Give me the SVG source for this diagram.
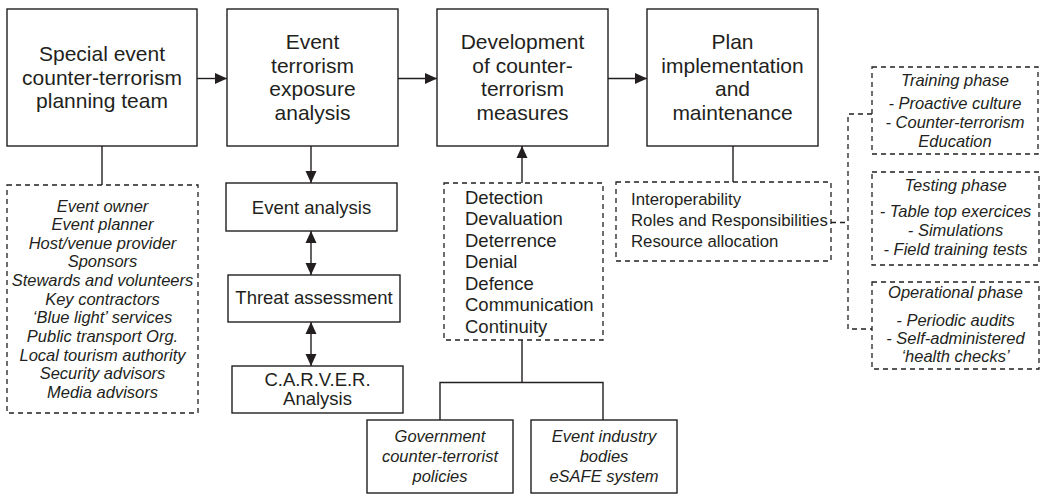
<svg xmlns="http://www.w3.org/2000/svg" width="1046" height="495" viewBox="0 0 1046 495">
  <style>
    .box { fill: #fff; stroke: #231f20; stroke-width: 1.4; }
    .dbox { fill: none; stroke: #231f20; stroke-width: 1.3; stroke-dasharray: 5 4; }
    .ln { fill: none; stroke: #231f20; stroke-width: 1.4; }
    .dln { fill: none; stroke: #231f20; stroke-width: 1.3; stroke-dasharray: 5 4; }
    text { font-family: "Liberation Sans", Arial, sans-serif; fill: #231f20; }
    .title { font-size: 21px; text-anchor: middle; }
    .lbl { font-size: 18.5px; text-anchor: middle; }
    .it { font-size: 16.5px; font-style: italic; text-anchor: middle; }
    .lst { font-size: 18.5px; }
    .lst2 { font-size: 16.8px; }
  </style>
  <defs>
    <marker id="arr" viewBox="0 0 12 12" refX="12" refY="6" markerWidth="12" markerHeight="12" markerUnits="userSpaceOnUse" orient="auto-start-reverse">
      <path d="M0,0.5 L12,6 L0,11.5 Z" fill="#231f20"/>
    </marker>
  </defs>

  <!-- connectors -->
  <g id="connectors">
    <line class="ln" x1="197" y1="78.5" x2="227" y2="78.5" marker-end="url(#arr)"/>
    <line class="ln" x1="398" y1="78.5" x2="437" y2="78.5" marker-end="url(#arr)"/>
    <line class="ln" x1="608" y1="78.5" x2="647" y2="78.5" marker-end="url(#arr)"/>
    <line class="ln" x1="102" y1="146" x2="102" y2="185"/>
    <line class="ln" x1="311" y1="146" x2="311" y2="183" marker-end="url(#arr)"/>
    <line class="ln" x1="311" y1="231" x2="311" y2="275" marker-start="url(#arr)" marker-end="url(#arr)"/>
    <line class="ln" x1="311" y1="322" x2="311" y2="366" marker-start="url(#arr)" marker-end="url(#arr)"/>
    <line class="ln" x1="522" y1="183" x2="522" y2="146" marker-end="url(#arr)"/>
    <path class="ln" d="M522,340 V382.5 M440,420 V382.5 H603 V420"/>
    <line class="ln" x1="733" y1="146" x2="733" y2="182"/>
    <path class="dln" d="M831,222.5 H848 M872,114 H848 V329 H872"/>
  </g>

  <!-- main process steps -->
  <g id="planning-team">
    <rect class="box" x="7" y="9" width="190" height="137"/>
    <text class="title" x="102" y="61">Special event</text>
    <text class="title" x="102" y="84.5">counter-terrorism</text>
    <text class="title" x="102" y="108">planning team</text>
  </g>
  <g id="exposure-analysis">
    <rect class="box" x="227" y="9" width="171" height="137"/>
    <text class="title" x="312.5" y="49">Event</text>
    <text class="title" x="312.5" y="72.5">terrorism</text>
    <text class="title" x="312.5" y="96">exposure</text>
    <text class="title" x="312.5" y="119.5">analysis</text>
  </g>
  <g id="measures">
    <rect class="box" x="437" y="9" width="171" height="137"/>
    <text class="title" x="522.5" y="49">Development</text>
    <text class="title" x="522.5" y="72.5">of counter-</text>
    <text class="title" x="522.5" y="96">terrorism</text>
    <text class="title" x="522.5" y="119.5">measures</text>
  </g>
  <g id="implementation">
    <rect class="box" x="647" y="9" width="171" height="137"/>
    <text class="title" x="732.5" y="49">Plan</text>
    <text class="title" x="732.5" y="72.5">implementation</text>
    <text class="title" x="732.5" y="96">and</text>
    <text class="title" x="732.5" y="119.5">maintenance</text>
  </g>

  <!-- stakeholders -->
  <g id="stakeholders">
    <rect class="dbox" x="7" y="185" width="191" height="228"/>
    <text class="it" x="102.5" y="211.5">Event owner</text>
    <text class="it" x="102.5" y="230.1">Event planner</text>
    <text class="it" x="102.5" y="248.8">Host/venue provider</text>
    <text class="it" x="102.5" y="267.4">Sponsors</text>
    <text class="it" x="102.5" y="286">Stewards and volunteers</text>
    <text class="it" x="102.5" y="304.7">Key contractors</text>
    <text class="it" x="102.5" y="323.3">‘Blue light’ services</text>
    <text class="it" x="102.5" y="341.9">Public transport Org.</text>
    <text class="it" x="102.5" y="360.5">Local tourism authority</text>
    <text class="it" x="102.5" y="379.2">Security advisors</text>
    <text class="it" x="102.5" y="397.8">Media advisors</text>
  </g>

  <!-- exposure analysis steps -->
  <g id="event-analysis">
    <rect class="box" x="226" y="183" width="171" height="48"/>
    <text class="lbl" x="311.5" y="213.5">Event analysis</text>
  </g>
  <g id="threat-assessment">
    <rect class="box" x="228" y="275" width="172" height="47"/>
    <text class="lbl" x="314" y="304">Threat assessment</text>
  </g>
  <g id="carver">
    <rect class="box" x="232" y="366" width="171" height="47"/>
    <text class="lbl" x="317.5" y="385.5">C.A.R.V.E.R.</text>
    <text class="lbl" x="317.5" y="405">Analysis</text>
  </g>

  <!-- measures list -->
  <g id="measure-list">
    <rect class="dbox" x="444" y="183" width="159" height="157"/>
    <text class="lst" x="465" y="203.5">Detection</text>
    <text class="lst" x="465" y="225">Devaluation</text>
    <text class="lst" x="465" y="246.5">Deterrence</text>
    <text class="lst" x="465" y="268">Denial</text>
    <text class="lst" x="465" y="289.5">Defence</text>
    <text class="lst" x="465" y="311">Communication</text>
    <text class="lst" x="465" y="332.5">Continuity</text>
  </g>

  <!-- sources -->
  <g id="government">
    <rect class="box" x="367" y="420" width="146" height="73"/>
    <text class="it" x="440" y="442">Government</text>
    <text class="it" x="440" y="462">counter-terrorist</text>
    <text class="it" x="440" y="482">policies</text>
  </g>
  <g id="industry">
    <rect class="box" x="531" y="420" width="146" height="73"/>
    <text class="it" x="604" y="442">Event industry</text>
    <text class="it" x="604" y="462">bodies</text>
    <text class="it" x="604" y="482">eSAFE system</text>
  </g>

  <!-- implementation topics -->
  <g id="implementation-topics">
    <rect class="dbox" x="616" y="182" width="215" height="79"/>
    <text class="lst2" x="631" y="205">Interoperability</text>
    <text class="lst2" x="631" y="226">Roles and Responsibilities</text>
    <text class="lst2" x="631" y="247">Resource allocation</text>
  </g>

  <!-- phases -->
  <g id="training-phase">
    <rect class="dbox" x="872" y="67" width="166" height="87"/>
    <text class="it" x="955" y="86">Training phase</text>
    <text class="it" x="955" y="109">- Proactive culture</text>
    <text class="it" x="955" y="128">- Counter-terrorism</text>
    <text class="it" x="955" y="147">Education</text>
  </g>
  <g id="testing-phase">
    <rect class="dbox" x="872" y="172" width="167" height="93"/>
    <text class="it" x="955.5" y="191">Testing phase</text>
    <text class="it" x="955.5" y="217">- Table top exercices</text>
    <text class="it" x="955.5" y="236">- Simulations</text>
    <text class="it" x="955.5" y="255">- Field training tests</text>
  </g>
  <g id="operational-phase">
    <rect class="dbox" x="872" y="282" width="167" height="87"/>
    <text class="it" x="955.5" y="298">Operational phase</text>
    <text class="it" x="955.5" y="326">- Periodic audits</text>
    <text class="it" x="955.5" y="344">- Self-administered</text>
    <text class="it" x="955.5" y="362">‘health checks’</text>
  </g>
</svg>
